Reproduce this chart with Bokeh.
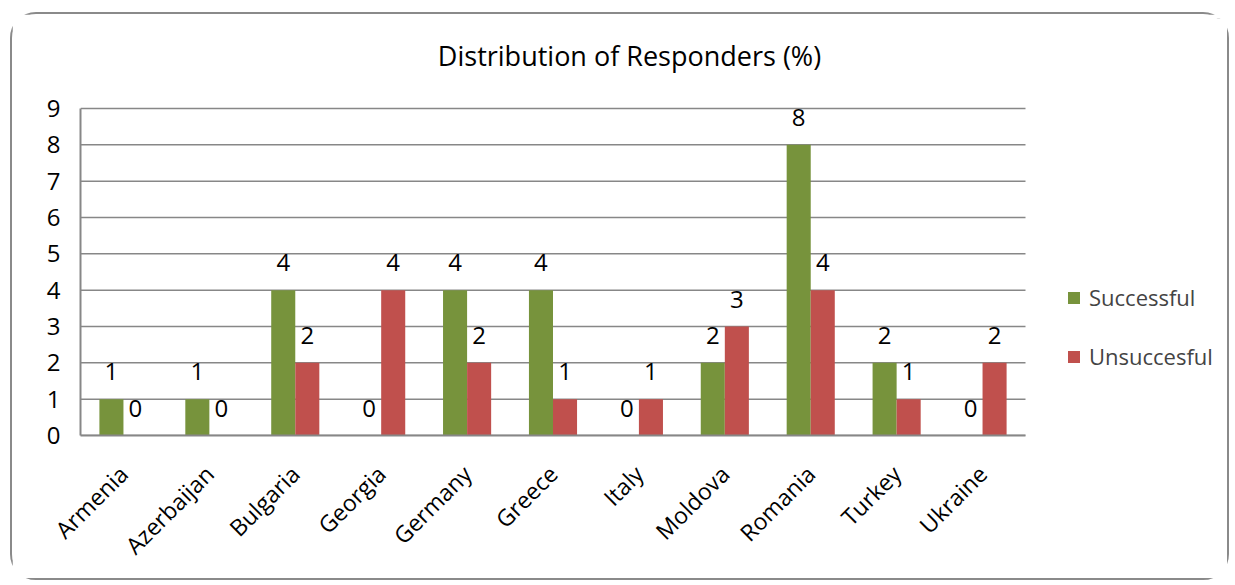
import math
from bokeh.plotting import figure
from bokeh.models import (Range1d, ColumnDataSource, LabelSet, Label, Legend,
                          LegendItem, FixedTicker)
from bokeh.core.properties import value
from bokeh.embed import file_html
from bokeh.resources import INLINE

countries = ["Armenia", "Azerbaijan", "Bulgaria", "Georgia", "Germany", "Greece",
             "Italy", "Moldova", "Romania", "Turkey", "Ukraine"]
successful = [1, 1, 4, 0, 4, 4, 0, 2, 8, 2, 0]
unsuccessful = [0, 0, 2, 4, 2, 1, 1, 3, 4, 1, 2]
series_names = ["Successful", "Unsuccesful"]
title_text = "Distribution of Responders (%)"
y_ticks = list(range(0, 10))

FONT = "Open Sans"
GREEN = "#77933C"
RED = "#C0504D"
GRID = "#878787"

# layout (pixels)
W, H = 1219, 568
ML, MR, MT, MB = 68, 4, 4, 147
PLOT_W, PLOT_H = 945, 327          # size of the bar area inside the frame
frame_w, frame_h = W - ML - MR, H - MT - MB
n = len(countries)
y_max = y_ticks[-1]

centers = [i + 0.5 for i in range(n)]
src = ColumnDataSource(dict(
    xs=[c - 0.14 for c in centers],
    xu=[c + 0.14 for c in centers],
    s=successful,
    u=unsuccessful,
    s_txt=[str(v) for v in successful],
    u_txt=[str(v) for v in unsuccessful],
))

p = figure(x_range=Range1d(0, n * frame_w / PLOT_W),
           y_range=Range1d(0, y_max * frame_h / PLOT_H),
           width=W, height=H, output_backend="svg", toolbar_location=None,
           min_border_left=ML, min_border_right=MR, min_border_top=MT,
           min_border_bottom=MB, title=None)
p.styles = {"border": "2px solid #8a8a8a", "border-radius": "26px",
            "margin-left": "10px", "margin-top": "12px", "box-sizing": "border-box"}

p.outline_line_color = None
p.xgrid.grid_line_color = None
p.ygrid.grid_line_color = None

# horizontal grid lines limited to the bar area
p.segment(x0=0, x1=n, y0=y_ticks, y1=y_ticks, line_color=GRID, line_width=1.5)

p.yaxis.ticker = FixedTicker(ticks=y_ticks)
p.yaxis.bounds = (0, y_max)
p.xaxis.ticker = FixedTicker(ticks=centers)
p.xaxis.major_label_overrides = {c: name for c, name in zip(centers, countries)}
p.xaxis.bounds = (0, n)

for ax in (p.xaxis[0], p.yaxis[0]):
    ax.axis_line_color = GRID
    ax.axis_line_width = 2
    ax.major_tick_line_color = None
    ax.minor_tick_line_color = None
    ax.major_tick_out = 0
    ax.major_tick_in = 0
    ax.minor_tick_out = 0
    ax.minor_tick_in = 0
    ax.major_label_text_font = FONT
    ax.major_label_text_color = "black"

p.yaxis.major_label_text_font_size = "24px"
p.xaxis.major_label_text_font_size = "23px"
p.yaxis.major_label_standoff = 20
p.xaxis.major_label_orientation = math.pi / 4
p.xaxis.major_label_standoff = 34

r1 = p.vbar(x="xs", top="s", width=0.28, source=src, fill_color=GREEN, line_color=None)
r2 = p.vbar(x="xu", top="u", width=0.28, source=src, fill_color=RED, line_color=None)

for xcol, col, txt in (("xs", "s", "s_txt"), ("xu", "u", "u_txt")):
    p.add_layout(LabelSet(x=xcol, y=col, text=txt, source=src,
                          text_align="center", text_baseline="alphabetic",
                          y_offset=19, text_font=value(FONT), text_font_size="24px",
                          text_color="black"))

p.add_layout(Label(x=549, y=380, x_units="screen", y_units="screen", text=title_text,
                   text_align="center", text_baseline="middle", text_font=FONT,
                   text_font_size="27px", text_color="black"))

legend = Legend(items=[LegendItem(label=series_names[0], renderers=[r1]),
                       LegendItem(label=series_names[1], renderers=[r2])],
                location=(986, 64), orientation="vertical",
                border_line_color=None, background_fill_alpha=0,
                padding=0, margin=0, spacing=29,
                glyph_width=15, glyph_height=15, label_height=20,
                label_standoff=8, label_text_font=FONT,
                label_text_font_size="22px", label_text_baseline="middle")
p.add_layout(legend)

open("out.html", "w").write(file_html(p, INLINE))
